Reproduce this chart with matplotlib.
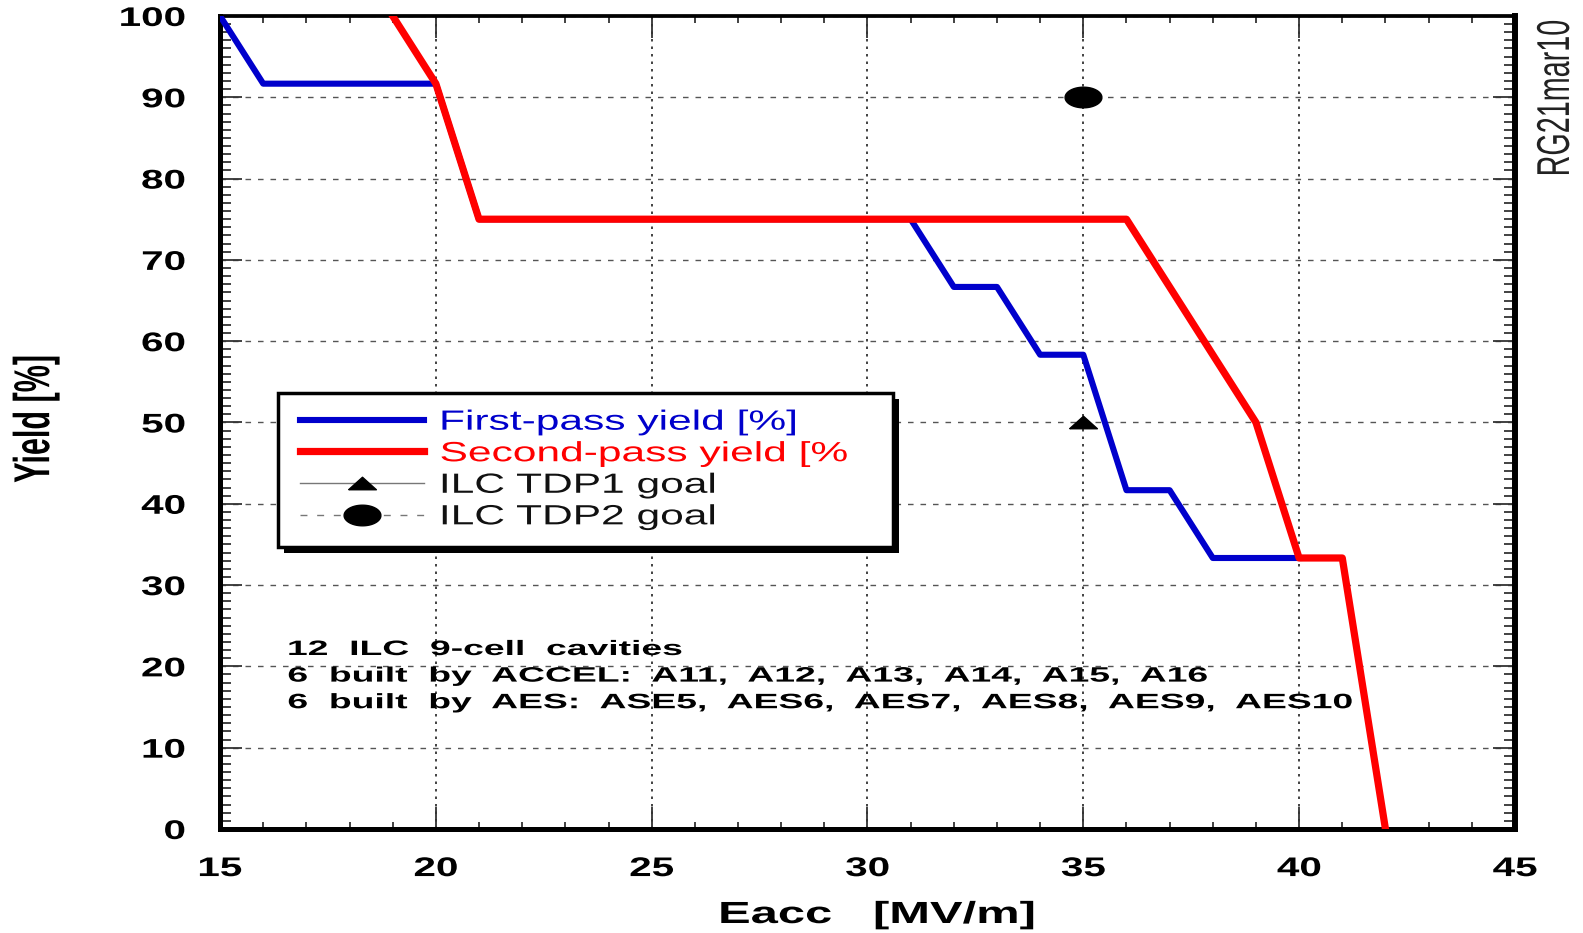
import matplotlib.pyplot as plt
import numpy as np
from matplotlib.path import Path
from matplotlib.patches import Rectangle
from matplotlib.patheffects import AbstractPathEffect
from matplotlib.transforms import Affine2D, IdentityTransform
from matplotlib.ticker import MultipleLocator
from matplotlib.legend_handler import HandlerLine2D

plt.rcParams['font.family'] = ['Liberation Sans', 'DejaVu Sans']

# first-pass and second-pass yield vs gradient
e_first = [15, 16, 20, 21, 31, 32, 33, 34, 35, 36, 37, 38, 40]
y_first = [100, 91.67, 91.67, 75, 75, 66.67, 66.67, 58.33, 58.33, 41.67, 41.67, 33.33, 33.33]
e_second = [19, 20, 21, 36, 37, 38, 39, 40, 41, 42]
y_second = [100, 91.67, 75, 75, 66.67, 58.33, 50, 33.33, 33.33, 0]

# ILC goals
tdp1 = (35, 50)
tdp2 = (35, 90)

labels = ['First-pass yield [%]', 'Second-pass yield [%', 'ILC TDP1 goal', 'ILC TDP2 goal']
note_lines = [
    "12  ILC  9-cell  cavities",
    "6  built  by  ACCEL:  A11,  A12,  A13,  A14,  A15,  A16",
    "6  built  by  AES:  ASE5,  AES6,  AES7,  AES8,  AES9,  AES10",
]


class Stretch(AbstractPathEffect):
    # the original picture is stretched sideways, so stretch the glyphs too
    def __init__(self, sx=1.0, sy=1.0, anchor='center'):
        super().__init__()
        self.sx, self.sy, self.anchor = sx, sy, anchor

    def draw_path(self, renderer, gc, tpath, affine, rgbFace=None):
        ext = tpath.get_extents()
        px = {'left': ext.x0, 'right': ext.x1}.get(self.anchor, (ext.x0 + ext.x1) / 2)
        py = (ext.y0 + ext.y1) / 2
        t = Affine2D().translate(-px, -py).scale(self.sx, self.sy).translate(px, py)
        renderer.draw_path(gc, tpath, t + affine, rgbFace)


# flattened marker shapes
t = np.linspace(0, 2 * np.pi, 60)
ellipse = Path(np.column_stack([np.cos(t), 0.56 * np.sin(t)]))
tri = Path([(-1, -0.45), (1, -0.45), (0, 0.45), (-1, -0.45)])

fig = plt.figure(figsize=(15.83, 9.33), dpi=100)
ax = fig.add_axes([0.139, 0.1115, 0.818, 0.8714])

ax.plot(e_first, y_first, color='#0000cc', lw=4.4, label=labels[0], zorder=3)
ax.plot(e_second, y_second, color='#ff0000', lw=5.2, label=labels[1], zorder=4)
ax.plot([tdp1[0]], [tdp1[1]], marker=tri, ms=20, color='#777777', lw=1, mfc='black', mec='black',
        label=labels[2], zorder=5)
ax.plot([tdp2[0]], [tdp2[1]], marker=ellipse, ms=26.5, color='#777777', lw=1, ls=(0, (5, 7)),
        mfc='black', mec='black', label=labels[3], zorder=5)

ax.set_xlim(15, 45)
ax.set_ylim(0, 100)
ax.xaxis.set_major_locator(MultipleLocator(5))
ax.xaxis.set_minor_locator(MultipleLocator(1))
ax.yaxis.set_major_locator(MultipleLocator(10))
ax.yaxis.set_minor_locator(MultipleLocator(1))

ax.grid(axis='x', which='major', color='#222222', ls=(0, (1.5, 3)), lw=1.2)
ax.grid(axis='y', which='major', color='#555555', ls=(0, (4, 5)), lw=1)

ax.spines['left'].set_linewidth(3.6)
ax.spines['bottom'].set_linewidth(3.6)
ax.spines['right'].set_linewidth(4.3)
ax.spines['top'].set_linewidth(2.7)
ax.tick_params(which='both', direction='in', top=True, right=True, width=1.3, color='#333333')
ax.tick_params(axis='x', which='minor', length=5)
ax.tick_params(axis='y', which='minor', length=8)
ax.tick_params(which='major', length=16, labelsize=19.4)
ax.tick_params(axis='x', pad=19.5)
ax.tick_params(axis='y', pad=25)
for lab in ax.get_xticklabels():
    lab.set_fontweight('bold')
    lab.set_path_effects([Stretch(1.5, 1, 'center')])
for lab in ax.get_yticklabels():
    lab.set_fontweight('bold')
    lab.set_path_effects([Stretch(1.5, 1, 'right')])

# axis titles
fig.text(877 / 1583, 1 - 915 / 933, 'Eacc   [MV/m]', fontsize=22, fontweight='bold',
         ha='center', va='center', path_effects=[Stretch(1.6, 1, 'center')])
fig.text(36 / 1583, 1 - 419 / 933, 'Yield [%]', fontsize=22, fontweight='bold', rotation=90,
         ha='center', va='center', path_effects=[Stretch(1, 1.65, 'center')])

leg = ax.legend(loc='upper left', bbox_to_anchor=(278 / 1583, 1 - 545 / 933, 615 / 1583, 152 / 933),
                bbox_transform=fig.transFigure, mode='expand', fontsize=20, frameon=True,
                fancybox=False, shadow=False, borderaxespad=0, handlelength=4.64,
                labelspacing=0.2, handletextpad=0.6, borderpad=0.6, numpoints=1,
                handler_map={plt.Line2D: HandlerLine2D(xpad=0.2)})
leg.get_frame().set_edgecolor('black')
leg.get_frame().set_linewidth(2.5)
leg.get_frame().set_alpha(None)
leg.get_frame().set_facecolor('white')
for txt, c in zip(leg.get_texts(), ['#0000cc', '#ff0000', '#111111', '#111111']):
    txt.set_color(c)
    txt.set_path_effects([Stretch(1.53, 1, 'left')])

for i, line in enumerate(note_lines):
    fig.text(288 / 1583, 1 - (655 + 26.6 * i) / 933, line, fontsize=15, fontweight='bold',
             va='baseline', ha='left', path_effects=[Stretch(1.79, 1, 'left')])

fig.text(1555 / 1583, 1 - 98 / 933, 'RG21mar10', rotation=90, fontsize=20.7, va='center', ha='center',
         color='#222222', path_effects=[Stretch(1, 1.6, 'center')])

# legend shadow, offset down-right
fig.canvas.draw()
bb = leg.get_frame().get_window_extent()
ax.add_patch(Rectangle((bb.x0 + 6, bb.y0 - 6), bb.width, bb.height, transform=IdentityTransform(),
                       facecolor='black', edgecolor='none', zorder=4.9, clip_on=False))

fig.savefig('out.png', dpi=100)
